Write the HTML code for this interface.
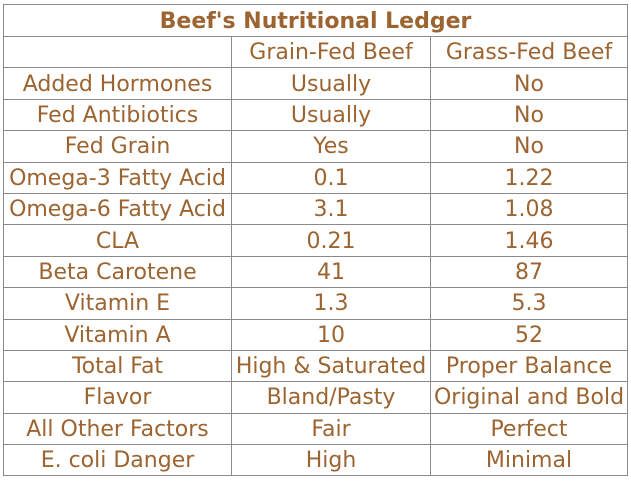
<!DOCTYPE html>
<html><head><style>
body{margin:0;width:631px;height:484px;background:#fff;overflow:hidden}
.t{position:absolute;left:3px;top:4px;border-collapse:collapse;table-layout:fixed;font-family:"DejaVu Sans","Liberation Sans",sans-serif;color:#9c6430;font-size:22px}
td{border:1px solid #8a8a8a;height:28.4px;padding:2px 0 0 0;text-align:center;white-space:nowrap;overflow:hidden;line-height:28px}
.h td{font-weight:bold;font-size:22px;height:29px}
</style></head><body>
<table class="t">
<colgroup><col style="width:228px"><col style="width:199px"><col style="width:197px"></colgroup>
<tr class="h"><td colspan="3">Beef's Nutritional Ledger</td></tr>
<tr><td></td><td>Grain-Fed Beef</td><td>Grass-Fed Beef</td></tr>
<tr><td>Added Hormones</td><td>Usually</td><td>No</td></tr>
<tr><td>Fed Antibiotics</td><td>Usually</td><td>No</td></tr>
<tr><td>Fed Grain</td><td>Yes</td><td>No</td></tr>
<tr><td>Omega-3 Fatty Acid</td><td>0.1</td><td>1.22</td></tr>
<tr><td>Omega-6 Fatty Acid</td><td>3.1</td><td>1.08</td></tr>
<tr><td>CLA</td><td>0.21</td><td>1.46</td></tr>
<tr><td>Beta Carotene</td><td>41</td><td>87</td></tr>
<tr><td>Vitamin E</td><td>1.3</td><td>5.3</td></tr>
<tr><td>Vitamin A</td><td>10</td><td>52</td></tr>
<tr><td>Total Fat</td><td>High &amp; Saturated</td><td>Proper Balance</td></tr>
<tr><td>Flavor</td><td>Bland/Pasty</td><td>Original and Bold</td></tr>
<tr><td>All Other Factors</td><td>Fair</td><td>Perfect</td></tr>
<tr><td>E. coli Danger</td><td>High</td><td>Minimal</td></tr>
</table>
</body></html>
